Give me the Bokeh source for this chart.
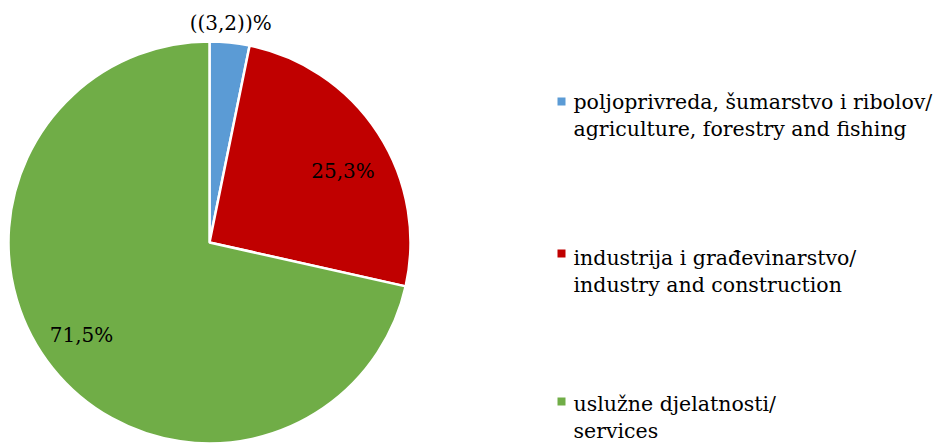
import math
from bokeh.plotting import figure
from bokeh.models import ColumnDataSource, Range1d
from bokeh.core.properties import value
from bokeh.embed import file_html
from bokeh.resources import INLINE

categories = ["poljoprivreda, šumarstvo i ribolov/\nagriculture, forestry and fishing",
              "industrija i građevinarstvo/\nindustry and construction",
              "uslužne djelatnosti/\nservices"]
shares = [3.2, 25.3, 71.5]
labels = ["((3,2))%", "25,3%", "71,5%"]
colors = ["#5B9BD5", "#C00000", "#70AD47"]

W, H = 938, 443
FONT = "DejaVu Serif"
p = figure(width=W, height=H, output_backend="svg", toolbar_location=None,
           x_range=Range1d(0, W), y_range=Range1d(0, H), min_border=0)
p.axis.visible = False
p.grid.visible = False
p.outline_line_color = None


def Y(ypix):
    return H - ypix


cx, cy, R = 209, Y(242), 201
total = sum(shares)
starts, ends = [], []
a = math.pi / 2
for s in shares:
    starts.append(a)
    a -= 2 * math.pi * s / total
    ends.append(a)
src = ColumnDataSource(dict(start=starts, end=ends, color=colors))
p.wedge(x=cx, y=cy, radius=R, start_angle="start", end_angle="end", direction="clock",
        fill_color="color", line_color="white", line_width=2.5, source=src)

# data labels
lab_r = [1.1, 0.75, 0.79]
lab_dx = [-1, 7, -4]
lab_dy = [0, -10, 7]
lx, ly = [], []
for i in range(3):
    mid = (starts[i] + ends[i]) / 2
    lx.append(cx + R * lab_r[i] * math.cos(mid) + lab_dx[i])
    ly.append(cy + R * lab_r[i] * math.sin(mid) + lab_dy[i])
p.text(x=lx, y=ly, text=labels, text_font=value(FONT), text_font_size="20px",
       text_align="center", text_baseline="middle", text_color="black")

# legend
base_y = [Y(101), Y(257), Y(403)]
sq_y = [Y(101), Y(253), Y(401)]
p.scatter(x=[561] * 3, y=sq_y, marker="square", size=8,
          fill_color=colors, line_color=None)
tx, ty, tt = [], [], []
for c, b in zip(categories, base_y):
    for j, line in enumerate(c.split("\n")):
        tx.append(573)
        ty.append(b - 27 * j)
        tt.append(line)
p.text(x=tx, y=ty, text=tt, text_font=value(FONT), text_font_size="20.5px",
       text_align="left", text_baseline="alphabetic", text_color="black")

open("out.html", "w").write(file_html(p, INLINE))
